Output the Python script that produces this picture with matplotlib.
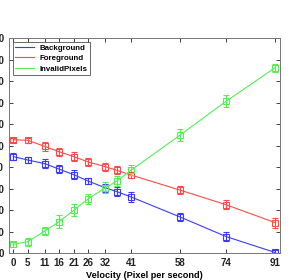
import matplotlib
matplotlib.use("Agg")
import matplotlib.pyplot as plt
import numpy as np

plt.rcParams['font.family'] = ['Liberation Sans', 'DejaVu Sans']

# velocity values (pixel per second)
velocity = [0, 5, 11, 16, 21, 26, 32, 36, 41, 58, 74, 91]
tick_labels = [0, 5, 11, 16, 21, 26, 32, 41, 58, 74, 91]

background = [44.9, 43.3, 41.6, 39.0, 36.5, 33.5, 30.4, 28.6, 26.1, 16.8, 7.7, 0.3]
foreground = [52.7, 52.5, 49.6, 47.1, 44.9, 42.4, 40.2, 38.5, 36.3, 29.3, 22.5, 14.2]
invalid = [4.1, 5.3, 10.3, 14.7, 19.9, 25.2, 30.4, 33.5, 38.6, 54.9, 70.6, 86.2]

bg_err = [1.5, 1.6, 2.0, 1.8, 2.0, 1.5, 1.8, 2.0, 2.2, 2.0, 2.0, 1.0]
fg_err = [0.8, 1.2, 2.2, 2.0, 2.0, 1.8, 1.8, 1.8, 1.5, 2.0, 2.0, 2.3]
inv_err = [1.2, 1.8, 2.0, 2.8, 2.8, 2.5, 2.5, 2.5, 2.5, 2.8, 2.8, 1.8]

fig = plt.figure(figsize=(2.99, 2.80), dpi=100)
ax = fig.add_axes([0.030, 0.096, 0.906, 0.768])

series = [("Background", background, bg_err, "#3a3aff"),
          ("Foreground", foreground, fg_err, "#ff4a4a"),
          ("InvalidPixels", invalid, inv_err, "#55ee55")]

for name, vals, err, col in series:
    ax.plot(velocity, vals, color=col, lw=0.8, label=name)
    ax.errorbar(velocity, vals, yerr=err, fmt='s', ms=4, mfc='none',
                mec=col, mew=0.8, ecolor=col, elinewidth=0.8, capsize=2)

ax.set_xlim(-1.5, 92.7)
ax.set_ylim(0, 100)
ax.set_xticks(tick_labels)
ax.set_yticks(np.arange(0, 101, 10))
ax.tick_params(direction='in', length=3, width=0.6, labelsize=7,
               top=True, right=True, colors='#222222')
for lbl in ax.get_xticklabels() + ax.get_yticklabels():
    lbl.set_fontweight('bold')
for s in ax.spines.values():
    s.set_color('#777777')
    s.set_linewidth(0.7)

ax.set_xlabel("Velocity (Pixel per second)", fontsize=6.6, fontweight='bold', labelpad=2)

leg = ax.legend(loc='upper left', frameon=True, fancybox=False,
                edgecolor='#444444', handlelength=2.4, borderpad=0.35,
                labelspacing=0.35, handletextpad=0.6, borderaxespad=0.45,
                prop={'weight': 'bold', 'size': 5.7})
leg.get_frame().set_linewidth(0.7)

fig.savefig("out.png", dpi=100)
